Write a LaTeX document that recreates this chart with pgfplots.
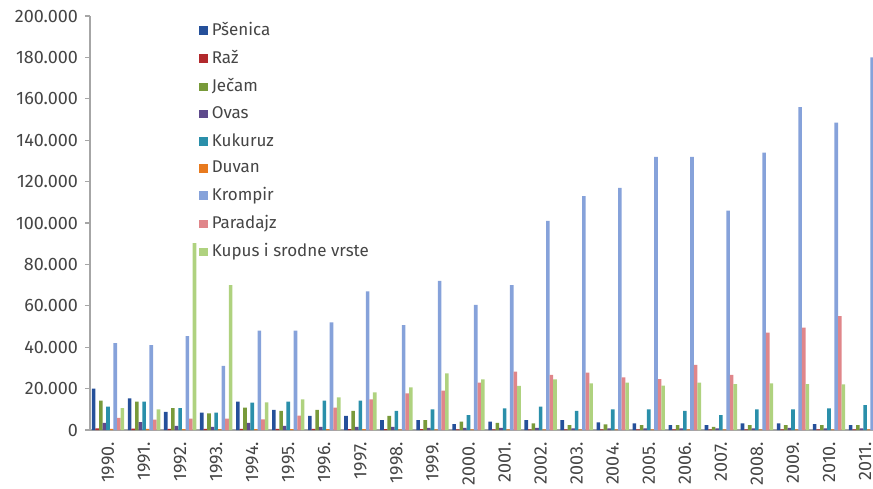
\documentclass[border=0pt]{standalone}
\usepackage{pgfplots}
\pgfplotsset{compat=1.18}
\usepackage{pgfplotstable}
\usepackage{fontspec}
\setmainfont{Fira Sans}

\definecolor{cPsenica}{HTML}{25509A}
\definecolor{cRaz}{HTML}{B2292C}
\definecolor{cJecam}{HTML}{789A3A}
\definecolor{cOvas}{HTML}{5E4A8C}
\definecolor{cKukuruz}{HTML}{2A8FAA}
\definecolor{cDuvan}{HTML}{E87A1E}
\definecolor{cKrompir}{HTML}{86A2DA}
\definecolor{cParadajz}{HTML}{E0868A}
\definecolor{cKupus}{HTML}{AFD27F}
\definecolor{axgray}{HTML}{A6A6A6}
\definecolor{txt}{HTML}{454545}

% idx 0 = 1990 ... 21 = 2011
\pgfplotstableread{
idx psenica raz  jecam ovas kukuruz duvan krompir paradajz kupus
0   20000   800  14200 3500 11300   500   42000   5800     10600
1   15300   700  13700 3800 13700   500   41000   5000     10000
2   8800    600  10600 2000 10600   400   45400   5500     90300
3   8400    500  8000  1500 8400    400   31000   5500     70000
4   13700   500  10800 3500 13200   400   48000   5100     13400
5   9700    500  9200  2000 13700   400   48000   6900     14800
6   6800    500  9700  1500 14200   400   52000   10800    15800
7   6800    400  9300  1500 14200   400   67000   14800    18200
8   4800    400  6800  1500 9300    300   50700   17700    20600
9   4800    400  4800  1000 10000   300   72000   19000    27400
10  2900    300  4000  1000 7200    300   60500   22900    24500
11  4000    300  3500  1000 10500   300   70000   28200    21300
12  4800    300  3200  1000 11300   300   101000  26600    24500
13  4800    300  2400  800  9200    300   113000  27700    22500
14  3700    300  2700  800  10000   300   117000  25400    22900
15  3200    300  2400  800  10000   300   132000  24600    21400
16  2400    300  2400  800  9300    300   132000  31500    22900
17  2400    300  1500  800  7200    300   106000  26600    22200
18  3200    300  2400  800  10000   300   134000  47000    22500
19  3200    300  2400  1000 10000   300   156000  49500    22200
20  2900    300  2400  800  10500   300   148500  55000    22000
21  2400    300  2400  800  12000   300   180000  55000    22000
}\data

\pgfplotsset{
  sq/.style={fill=#1, draw=none,
    legend image code/.code={\fill[#1] (0pt,-2.1pt) rectangle (4.2pt,2.1pt);}},
}

\begin{document}
\begin{tikzpicture}
\begin{axis}[
  name=ax,
  scale only axis,
  width=391.5pt, height=207pt,
  ybar=0pt, bar width=1.8pt,
  xmin=-0.5, xmax=21.22,
  ymin=0, ymax=200000,
  axis lines*=left,
  axis line style={axgray, line width=0.6pt},
  tick style={axgray, line width=0.6pt},
  tick align=outside,
  major tick length=2.5pt,
  ytick={0,20000,...,200000},
  scaled y ticks=false,
  /pgf/number format/fixed,
  /pgf/number format/1000 sep={.},
  /pgf/number format/assume math mode=true,
  xtick={0,...,21},
  xticklabels={1990.,1991.,1992.,1993.,1994.,1995.,1996.,1997.,1998.,1999.,2000.,2001.,2002.,2003.,2004.,2005.,2006.,2007.,2008.,2009.,2010.,2011.},
  xtick style={draw=none},
  extra x ticks={-0.5,0.5,...,20.5},
  extra x tick labels={},
  extra x tick style={tick style={axgray, line width=0.6pt, draw=axgray}, major tick length=2pt},
  x tick label style={rotate=90, anchor=east, font=\fontsize{9}{10}\selectfont, text=txt},
  y tick label style={font=\fontsize{9}{10}\selectfont, text=txt},
  legend style={at={(0.1315,1.005)}, anchor=north west, draw=none, fill=none,
    font=\fontsize{8.5}{10}\selectfont, text=txt, row sep=1.9pt,
    /tikz/every even column/.append style={column sep=1pt}},
  legend cell align=left,
  clip=true,
]
\addplot[sq=cPsenica] table[x=idx, y=psenica] {\data};
\addplot[sq=cRaz] table[x=idx, y=raz] {\data};
\addplot[sq=cJecam] table[x=idx, y=jecam] {\data};
\addplot[sq=cOvas] table[x=idx, y=ovas] {\data};
\addplot[sq=cKukuruz] table[x=idx, y=kukuruz] {\data};
\addplot[sq=cDuvan] table[x=idx, y=duvan] {\data};
\addplot[sq=cKrompir] table[x=idx, y=krompir] {\data};
\addplot[sq=cParadajz] table[x=idx, y=paradajz] {\data};
\addplot[sq=cKupus] table[x=idx, y=kupus] {\data};
\legend{Pšenica,Raž,Ječam,Ovas,Kukuruz,Duvan,Krompir,Paradajz,Kupus i srodne vrste}
\end{axis}
\pgfresetboundingbox
\path[use as bounding box] (-45pt,-29pt) rectangle (391.5pt,215pt);
\end{tikzpicture}
\end{document}
